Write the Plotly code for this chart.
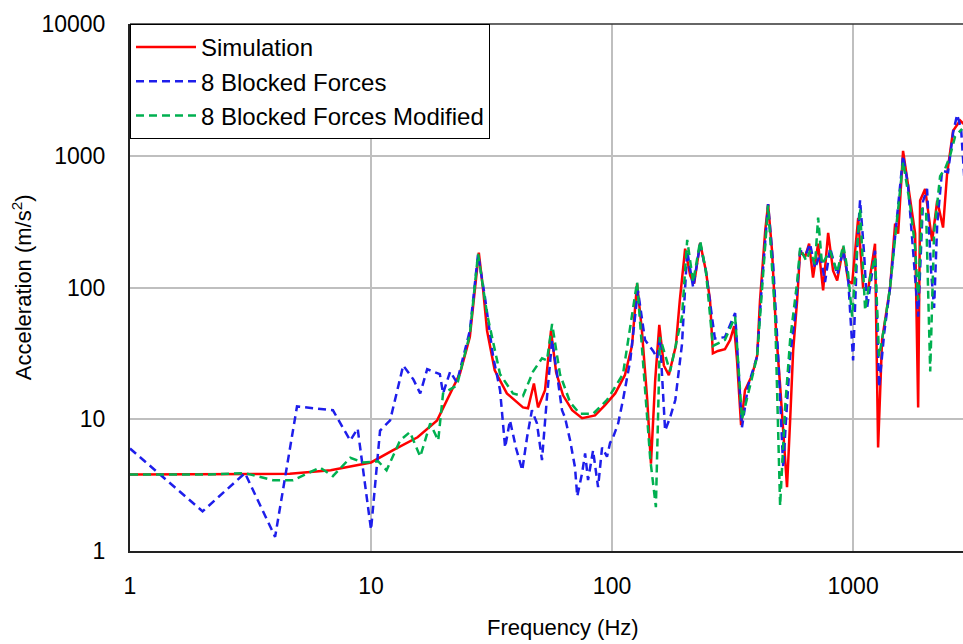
import plotly.graph_objects as go

# ---- Simulation (red) ----
sim_f = [1.0, 2.0, 3.06, 4.6, 6.8, 9.0, 10, 12.3, 15.6, 18.8, 20.9, 23.4, 25.7, 27, 28, 29.2, 30.3,
         32.6, 36.6, 42.7, 44.8, 47.4, 49.3, 52.7, 55.8, 58.6, 62.6, 68.3, 75.1, 85, 93.5, 103, 113,
         121, 127, 133, 140, 145, 151, 157, 164, 172, 184, 191, 201, 211, 219, 232, 245, 255, 262, 275,
         294, 309, 321, 330, 343, 356, 381, 400, 411, 432, 444, 461, 479, 498, 517, 532, 548, 564, 586,
         603, 632, 657, 682, 716, 751, 788, 826, 859, 910, 953, 991, 1050, 1100, 1153, 1233, 1270, 1319,
         1424, 1494, 1538, 1612, 1725, 1809, 1862, 1897, 1990, 2128, 2233, 2362, 2455, 2600, 2780, 2915]
sim_a = [3.8, 3.8, 3.8, 3.85, 4.1, 4.5, 4.7, 5.8, 7.3, 9.8, 14.7, 22.3, 42, 95, 184, 95, 47,
         23.5, 15.7, 12.3, 12.1, 18.7, 12.3, 16.6, 47, 22.7, 15.2, 11.7, 10.2, 10.7, 12.8, 15.7, 21.6,
         36.3, 107, 47, 13.9, 4.6, 19.8, 52, 25.6, 21.6, 36.3, 80, 197, 123, 107, 218, 134, 80, 31.6, 33,
         34, 40, 51, 28, 9, 16.6, 21.6, 30.5, 80, 270, 430, 190, 47, 18.1, 6.3, 3.05, 9.8, 33, 80,
         190, 170, 215, 119, 215, 95, 260, 134, 113, 201, 113, 107, 337, 100, 95, 215, 6.1, 40,
         100, 305, 256, 1090, 457, 256, 12.3, 457, 560, 225, 457, 285, 730, 1550, 1850, 1700]

# ---- 8 Blocked Forces (blue) ----
bf_f = [1.0, 2.0, 3.0, 4.0, 4.93, 6.95, 8.2, 8.8, 10, 10.6, 10.9, 12, 13.6, 15, 16, 17.1, 19.3, 19.9,
        21.3, 22.7, 25.7, 27.8, 29.7, 32.1, 34.3, 36, 37.7, 40, 42.4, 44.4, 46.5, 48.8, 51.2, 53.7,
        56.4, 59.1, 62, 63.8, 67, 70.2, 71.7, 75.1, 77.3, 79.5, 83.4, 87.5, 90.9, 95.3, 98.1, 101,
        106, 111, 119, 128, 137, 148, 154, 158, 166, 174, 183, 195, 205, 217, 232, 245, 255, 267, 294,
        324, 346, 367, 400, 419, 444, 466, 489, 513, 527, 548, 574, 603, 638, 663, 695, 730, 765, 803,
        859, 910, 953, 1000, 1040, 1069, 1111, 1143, 1200, 1233, 1282, 1346, 1424, 1508, 1612, 1690,
        1791, 1862, 1950, 2027, 2108, 2168, 2233, 2339, 2477, 2600, 2702, 2806, 2890]
bf_a = [6.0, 2.0, 3.9, 1.28, 12.5, 11.7, 6.9, 8.5, 1.45, 5.2, 8.2, 9.8, 25.6, 20, 15.7, 24, 22, 15.7,
        23, 19, 47, 180, 84, 30, 16.6, 6.1, 9.8, 6.0, 4.1, 7.3, 11.7, 9.3, 4.9, 14.7,
        40, 22, 11.7, 10.3, 6.9, 4.3, 2.6, 3.9, 5.5, 3.45, 5.8, 3.05, 6.1, 5.2, 6.6, 7.3,
        9.3, 14, 28, 95, 40, 33, 29, 42, 8.2, 10.3, 14, 37, 190, 100, 215, 134, 80, 41, 42,
        64, 8.7, 18, 30, 110, 430, 150, 30, 4.3, 10, 30, 60, 190, 180, 215, 140, 180, 110, 200,
        125, 190, 120, 28, 200, 460, 180, 70, 130, 190, 17.5, 45, 100, 300, 1000, 600,
        150, 60, 450, 560, 130, 70, 300, 770, 750, 1500, 2050, 1600, 700]

# ---- 8 Blocked Forces Modified (green) ----
bm_f = [1.0, 2.0, 3.0, 3.92, 4.75, 6.14, 6.95, 8.2, 9.27, 10.7, 11.6, 13.2, 14.5, 16, 17.6, 19, 19.9,
        22.7, 25.7, 27.8, 30.3, 34.3, 38.8, 42.7, 47, 51.2, 53.7, 56.4, 60.8, 67, 73.6, 83.4, 95.3,
        106, 111, 127, 134, 144, 152, 158, 174, 195, 205, 217, 232, 245, 262, 294, 324, 346, 400, 444,
        475, 498, 522, 548, 586, 603, 638, 663, 695, 716, 743, 803, 859, 910, 953, 991, 1040, 1069,
        1122, 1177, 1233, 1282, 1346, 1424, 1508, 1612, 1725, 1809, 1862, 1932, 2008, 2089, 2168,
        2296, 2410, 2525, 2650, 2833]
bm_a = [3.8, 3.8, 3.9, 3.45, 3.45, 4.3, 3.7, 5.1, 4.7, 4.8, 4.1, 6.9, 8.0, 5.2, 9.3, 6.9, 15.7,
        18, 44, 180, 63, 22, 15.7, 15, 23, 29, 28, 53, 22, 13.4, 11, 11, 14,
        19, 22, 110, 28, 5.0, 2.15, 42, 23, 60, 230, 110, 225, 134, 36, 40, 60, 10, 30, 420,
        60, 2.2, 12, 40, 110, 200, 160, 190, 150, 340, 150, 190, 130, 210, 130, 60, 200, 400,
        67, 120, 170, 30, 50, 100, 280, 900, 420, 200, 80, 400, 380, 23, 260,
        700, 800, 1000, 1400, 1600]

x_ticks = [1, 10, 100, 1000]
x_tick_text = ["1", "10", "100", "1000"]
y_ticks = [1, 10, 100, 1000, 10000]
y_tick_text = ["1", "10", "100", "1000", "10000"]

FONT = "Liberation Sans, Arial, sans-serif"

fig = go.Figure()
fig.add_trace(go.Scatter(x=sim_f, y=sim_a, mode="lines", name="Simulation",
                         line=dict(color="#FF0000", width=2.5)))
fig.add_trace(go.Scatter(x=bf_f, y=bf_a, mode="lines", name="8 Blocked Forces",
                         line=dict(color="#1E1EEB", width=2.5, dash="8px,5px")))
fig.add_trace(go.Scatter(x=bm_f, y=bm_a, mode="lines", name="8 Blocked Forces Modified",
                         line=dict(color="#00B050", width=2.5, dash="8px,5px")))

fig.update_layout(
    width=963, height=644,
    margin=dict(l=130, r=0, t=24, b=93),
    paper_bgcolor="white", plot_bgcolor="white",
    font=dict(family=FONT, size=22, color="black"),
    showlegend=True,
    legend=dict(x=0, y=1.0, xanchor="left", yanchor="top",
                bgcolor="white", bordercolor="black", borderwidth=1,
                font=dict(size=24), itemwidth=60, tracegroupgap=0),
    xaxis=dict(type="log", range=[0, 3.456], tickvals=x_ticks, ticktext=x_tick_text,
               showgrid=True, gridcolor="#BFBFBF", gridwidth=1.5,
               showline=True, linecolor="#222222", linewidth=2,
               ticks="", zeroline=False, ticklabelstandoff=13,
               tickfont=dict(size=23)),
    yaxis=dict(type="log", range=[0, 4], tickvals=y_ticks, ticktext=y_tick_text,
               showgrid=True, gridcolor="#BFBFBF", gridwidth=1.5,
               showline=True, linecolor="#222222", linewidth=2,
               ticks="", zeroline=False, ticklabelstandoff=18,
               tickfont=dict(size=23)),
    shapes=[dict(type="line", xref="paper", yref="paper", x0=0, x1=1, y0=1, y1=1,
                 line=dict(color="#333333", width=1.5))],
    annotations=[
        dict(text="Frequency (Hz)", xref="paper", yref="paper", x=0.52, y=-0.145,
             xanchor="center", yanchor="middle", showarrow=False, font=dict(size=22)),
        dict(text="Acceleration (m/s<sup>2</sup>)", xref="paper", yref="paper", x=-0.13, y=0.5,
             xanchor="center", yanchor="middle", textangle=-90, showarrow=False, font=dict(size=22)),
    ],
)

fig.write_html("out.html")
